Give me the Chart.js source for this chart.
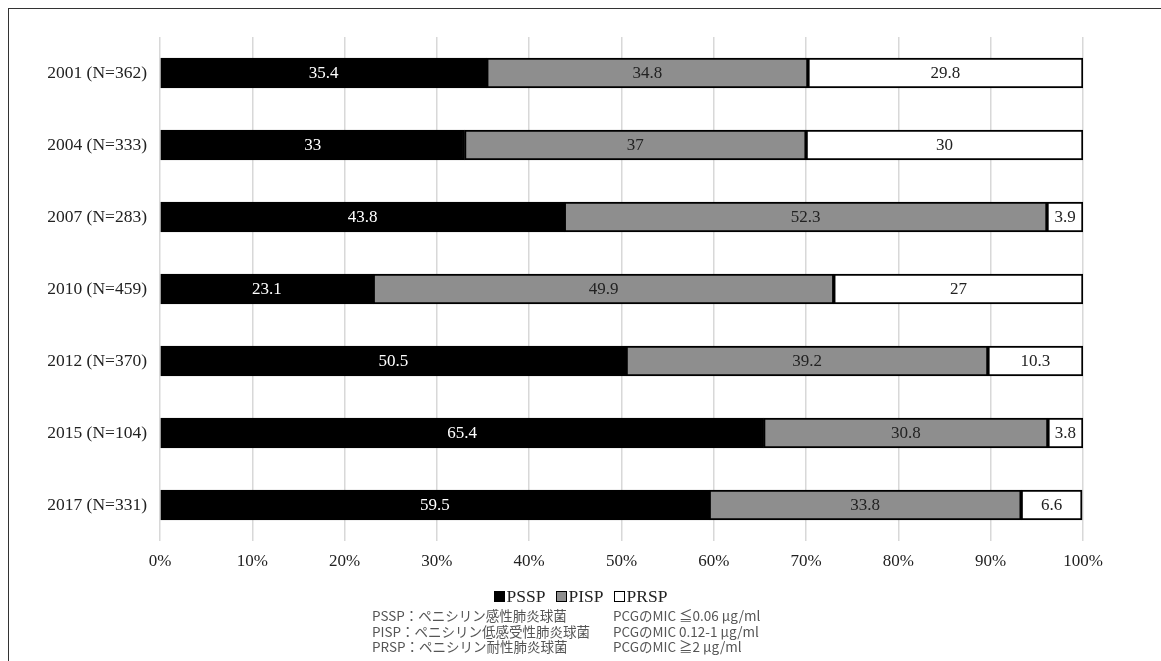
<!DOCTYPE html>
<html><head><meta charset="utf-8">
<script src="https://cdn.jsdelivr.net/npm/chart.js@4"></script>
<style>
html,body{margin:0;padding:0;background:#fff;}
#wrap{position:relative;width:1161px;height:661px;overflow:hidden;}
#frame{position:absolute;left:8px;top:8px;width:1200px;height:700px;border-left:1.5px solid #333;border-top:1.5px solid #333;}
canvas{position:absolute;left:0;top:0;}
#legend{position:absolute;left:0;width:1161px;top:586px;text-align:center;font:17.5px "Liberation Serif","Times New Roman",serif;color:#222;padding-left:0px;}
#legend span.it{margin:0 5px;}
#legend i{display:inline-block;width:11px;height:11px;border:1px solid #000;margin-right:2px;vertical-align:0px;box-sizing:border-box;}
#notes{position:absolute;left:372px;top:608px;font:13.5px "Noto Sans CJK JP","Noto Sans",sans-serif;color:#555;line-height:15.5px;}
#notes div span{display:inline-block;width:241px;}
</style></head>
<body><div id="wrap"><div id="frame"></div><canvas id="c" width="1161" height="661"></canvas>
<div id="legend"></div>
<div id="notes"></div></div>
<script>
const categories = ["2001 (N=362)","2004 (N=333)","2007 (N=283)","2010 (N=459)","2012 (N=370)","2015 (N=104)","2017 (N=331)"];
const seriesNames = ["PSSP","PISP","PRSP"];
const pssp = [35.4,33,43.8,23.1,50.5,65.4,59.5];
const pisp = [34.8,37,52.3,49.9,39.2,30.8,33.8];
const prsp = [29.8,30,3.9,27,10.3,3.8,6.6];
const xTicks = [0,10,20,30,40,50,60,70,80,90,100];
const noteLeft = ["PSSP：ペニシリン感性肺炎球菌","PISP：ペニシリン低感受性肺炎球菌","PRSP：ペニシリン耐性肺炎球菌"];
const noteRight = ["PCGのMIC ≦0.06 μg/ml","PCGのMIC  0.12-1 μg/ml","PCGのMIC ≧2 μg/ml"];

const fills = ["#000000","#8e8e8e","#ffffff"];
const textCols = ["#ffffff","#222222","#222222"];
const serif = '"Liberation Serif","Times New Roman",serif';

document.getElementById('legend').innerHTML = seriesNames.map((n,i)=>
  `<span class="it"><i style="background:${fills[i]}"></i>${n}</span>`).join('');
document.getElementById('notes').innerHTML = noteLeft.map((t,i)=>
  `<div><span>${t}</span>${noteRight[i]}</div>`).join('');

const labelPlugin = {
  id:'barLabels',
  afterDatasetsDraw(chart){
    const ctx = chart.ctx;
    ctx.save();
    ctx.font = '17px ' + serif;
    ctx.textAlign='center'; ctx.textBaseline='middle';
    chart.data.datasets.forEach((ds,di)=>{
      const meta = chart.getDatasetMeta(di);
      meta.data.forEach((bar,i)=>{
        const v = ds.data[i];
        const cx = (bar.x + bar.base)/2;
        ctx.fillStyle = textCols[di];
        ctx.fillText(String(v), cx, bar.y+1);
      });
    });
    ctx.restore();
  }
};

new Chart(document.getElementById('c'),{
  type:'bar',
  data:{
    labels:categories,
    datasets:[pssp,pisp,prsp].map((d,i)=>({
      label:seriesNames[i], data:d, backgroundColor:fills[i],
      borderColor:'#000', borderWidth:2, borderSkipped:false, barThickness:30
    }))
  },
  options:{
    indexAxis:'y', responsive:false, animation:false,
    layout:{padding:{left:0,right:78,top:37,bottom:0}},
    plugins:{legend:{display:false},tooltip:{enabled:false}},
    scales:{
      x:{stacked:true,min:0,max:100,
        afterFit(s){s.height=120;},
        afterBuildTicks(s){s.ticks = xTicks.map(v=>({value:v}));},
        ticks:{callback:v=>v+'%',font:{family:serif,size:17},color:'#222',padding:10},
        grid:{color:'#d8d8d8',lineWidth:1.5,drawTicks:false},
        border:{display:false}},
      y:{stacked:true,
        afterFit(s){s.width=160;},
        ticks:{font:{family:serif,size:17.5},color:'#222',padding:13},
        grid:{display:false,drawTicks:false},
        border:{display:false}}
    }
  },
  plugins:[labelPlugin]
});
</script></body></html>
